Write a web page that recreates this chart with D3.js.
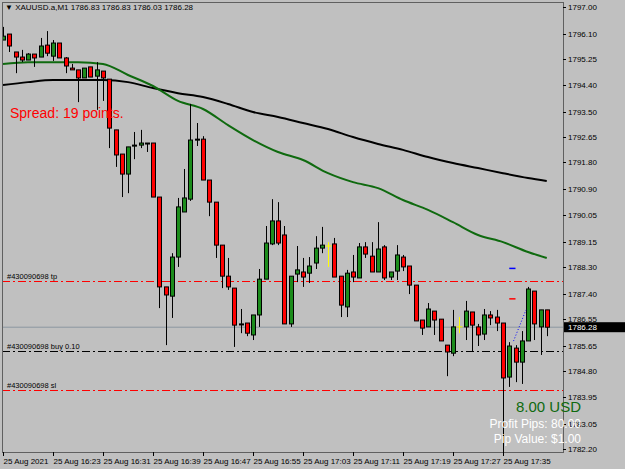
<!DOCTYPE html>
<html>
<head>
<meta charset="utf-8">
<script src="https://cdn.jsdelivr.net/npm/d3@7"></script>
<style>
  body { margin: 0; background: #c0c0c0; }
  svg { display: block; font-family: "Liberation Sans", Arial, sans-serif; }
</style>
</head>
<body>
<svg id="chart" width="625" height="469"></svg>
<script>
// OHLC of 1 minute bars, first bar 25 Aug 2021 16:15
const bars = [
  [1795.90,1796.34,1795.90,1796.03],[1796.10,1796.10,1795.50,1795.70],[1795.50,1795.50,1794.79,1795.33],[1795.33,1795.57,1795.16,1795.23],
  [1795.23,1795.46,1795.23,1795.43],[1795.43,1795.43,1795.00,1795.30],[1795.33,1795.97,1795.33,1795.70],[1795.73,1796.20,1795.36,1795.46],
  [1795.36,1795.90,1795.20,1795.80],[1795.80,1795.80,1795.30,1795.30],[1795.30,1795.33,1794.79,1795.03],[1794.96,1795.10,1794.90,1794.90],
  [1794.90,1794.90,1793.82,1794.63],[1794.63,1794.96,1794.63,1794.96],[1795.00,1795.00,1794.66,1794.66],[1794.69,1795.16,1793.56,1794.90],
  [1794.86,1794.86,1793.86,1794.63],[1794.59,1794.59,1792.28,1792.95],[1792.89,1792.89,1791.65,1792.05],[1792.08,1792.08,1790.64,1791.41],
  [1791.41,1792.32,1790.77,1792.32],[1792.38,1792.82,1791.91,1792.38],[1792.38,1792.89,1792.28,1792.45],[1792.45,1792.45,1792.15,1792.42],
  [1792.45,1792.45,1790.64,1790.64],[1790.64,1790.64,1786.92,1787.63],[1787.63,1787.63,1785.68,1787.36],[1787.32,1788.76,1786.59,1788.63],
  [1788.63,1790.61,1788.30,1790.31],[1790.14,1791.58,1790.14,1790.61],[1790.57,1793.76,1790.51,1792.55],[1792.58,1793.12,1792.35,1792.58],
  [1792.58,1792.68,1791.21,1791.21],[1791.21,1791.21,1790.00,1790.47],[1790.47,1790.47,1788.60,1789.03],[1789.03,1789.03,1787.59,1787.99],
  [1787.99,1788.60,1787.53,1787.63],[1787.59,1787.59,1785.62,1786.35],[1786.39,1786.89,1786.08,1786.39],[1786.42,1786.42,1785.98,1786.08],
  [1786.02,1786.69,1785.85,1786.69],[1786.69,1788.23,1786.29,1787.89],[1787.89,1789.67,1787.89,1789.10],[1789.07,1790.57,1789.03,1789.84],
  [1789.84,1790.47,1789.03,1789.10],[1789.37,1789.67,1786.39,1786.39],[1786.39,1787.99,1786.29,1787.99],[1788.06,1789.00,1787.79,1788.20],
  [1788.13,1788.60,1787.63,1787.96],[1788.09,1788.63,1787.76,1788.33],[1788.43,1789.33,1788.23,1788.93],[1788.93,1789.64,1788.76,1789.03],
  [1789.00,1789.13,1788.30,1789.00],[1789.07,1789.27,1787.96,1787.96],[1787.99,1787.99,1786.62,1787.02],[1786.96,1788.20,1786.62,1788.09],
  [1788.13,1788.70,1787.79,1787.96],[1787.93,1789.10,1787.93,1788.97],[1788.97,1789.13,1788.60,1788.73],[1788.66,1789.13,1788.13,1788.13],
  [1788.13,1789.80,1788.13,1788.90],[1788.97,1789.03,1787.86,1787.93],[1787.96,1788.13,1787.86,1788.13],[1788.16,1789.03,1787.86,1788.70],
  [1788.63,1788.70,1788.16,1788.30],[1788.33,1788.33,1787.39,1787.69],[1787.69,1787.69,1786.49,1786.49],[1786.52,1786.52,1786.02,1786.25],
  [1786.29,1787.09,1786.29,1786.89],[1786.82,1786.82,1786.02,1786.52],[1786.55,1786.55,1785.82,1785.82],[1785.68,1785.68,1784.64,1785.45],
  [1785.41,1786.86,1785.31,1786.29],[1786.29,1786.62,1786.08,1786.29],[1786.29,1787.16,1785.85,1786.82],[1786.79,1786.79,1785.45,1786.35],
  [1786.29,1786.39,1785.65,1786.02],[1786.05,1786.89,1785.85,1786.69],[1786.69,1786.82,1786.35,1786.59],[1786.62,1786.86,1786.15,1786.42],
  [1786.42,1786.42,1781.63,1784.58],[1784.61,1785.78,1784.28,1785.65],[1785.58,1785.68,1784.44,1785.11],[1785.11,1786.15,1784.38,1785.82],
  [1785.82,1787.63,1785.82,1787.56],[1787.49,1787.49,1785.85,1786.39],[1786.29,1786.86,1785.35,1786.86],[1786.86,1786.86,1785.98,1786.28]
];
const yellowBars = [52, 73];

// moving averages sampled at bar indices
const maIndex = [0,4,8,12,16,20,24,28,32,36,40,44,48,52,56,60,64,68,72,76,80,84,87];
const maGreen = [1795.10,1795.16,1795.16,1795.16,1795.10,1794.73,1794.36,1793.86,1793.59,1793.05,1792.55,1792.15,1791.88,1791.44,1791.14,1790.94,1790.54,1790.21,1789.80,1789.37,1789.13,1788.80,1788.60];
const maBlack = [1794.39,1794.49,1794.56,1794.56,1794.56,1794.49,1794.29,1794.12,1793.99,1793.76,1793.49,1793.32,1793.12,1792.92,1792.65,1792.42,1792.22,1791.98,1791.78,1791.61,1791.44,1791.28,1791.18];

const priceTicks = [1797.00,1796.10,1795.25,1794.40,1793.50,1792.65,1791.80,1790.90,1790.05,1789.15,1788.30,1787.40,1786.55,1785.65,1784.80,1783.95,1783.05,1782.20];
const timeLabels = ["25 Aug 2021","25 Aug 16:23","25 Aug 16:31","25 Aug 16:39","25 Aug 16:47","25 Aug 16:55","25 Aug 17:03","25 Aug 17:11","25 Aug 17:19","25 Aug 17:27","25 Aug 17:35"];

const tpPrice = 1787.83, buyPrice = 1785.48, slPrice = 1784.18, bidPrice = 1786.28;
const startTime = new Date(2021, 7, 25, 16, 15);

const svg = d3.select("#chart");
const plotL = 2, plotR = 563, plotT = 2, plotB = 452;

const x = d3.scaleTime()
  .domain([startTime, d3.timeMinute.offset(startTime, 88)])
  .range([3, 3 + 88 * 6.25]);
const xi = i => x(d3.timeMinute.offset(startTime, i));
const y = d3.scaleLinear().domain([1782.20, 1797.00]).range([449, 7.2]);

svg.append("clipPath").attr("id", "plot")
  .append("rect").attr("x", plotL).attr("y", plotT).attr("width", plotR - plotL).attr("height", plotB - plotT);
const plot = svg.append("g").attr("clip-path", "url(#plot)");

// bid line
plot.append("line").attr("x1", plotL).attr("x2", plotR)
  .attr("y1", y(bidPrice)).attr("y2", y(bidPrice)).attr("stroke", "#8c96a0").attr("stroke-width", 1);

// order lines
const orders = [
  { p: tpPrice, c: "#ff0000", label: "#430090698 tp" },
  { p: buyPrice, c: "#000000", label: "#430090698 buy 0.10" },
  { p: slPrice, c: "#ff0000", label: "#430090698 sl" }
];
orders.forEach(o => {
  const yy = Math.round(y(o.p)) + 0.5;
  plot.append("line").attr("x1", plotL).attr("x2", plotR).attr("y1", yy).attr("y2", yy)
    .attr("stroke", o.c).attr("stroke-dasharray", "8,3,2,3");
  plot.append("text").attr("x", 7).attr("y", yy - 3).attr("font-size", 7.5).attr("fill", "#000").text(o.label);
});

// moving averages
const line = d3.line().x((d, i) => xi(maIndex[i])).y(d => y(d)).curve(d3.curveMonotoneX);
plot.append("path").datum(maBlack).attr("d", line).attr("fill", "none").attr("stroke", "#000").attr("stroke-width", 2);
plot.append("path").datum(maGreen).attr("d", line).attr("fill", "none").attr("stroke", "#0f6a0f").attr("stroke-width", 2);

// candles
const cx = i => Math.round(xi(i)) + 0.5;
bars.forEach((d, i) => {
  const isYellow = yellowBars.includes(i);
  plot.append("line").attr("x1", cx(i)).attr("x2", cx(i))
    .attr("y1", y(d[1])).attr("y2", y(d[2]))
    .attr("stroke", isYellow ? "#ffff00" : "#000");
  if (isYellow) {
    plot.append("line").attr("x1", cx(i) - 3).attr("x2", cx(i) + 3)
      .attr("y1", y(d[0])).attr("y2", y(d[0])).attr("stroke", "#ffff00");
  } else {
    plot.append("rect")
      .attr("x", cx(i) - 2).attr("y", y(Math.max(d[0], d[3])))
      .attr("width", 4).attr("height", Math.max(1, Math.abs(y(d[0]) - y(d[3]))))
      .attr("fill", d[3] >= d[0] ? "#1c8c1c" : "#ff0000")
      .attr("stroke", "#000").attr("stroke-width", 1);
  }
});

// trade markers
plot.append("line").attr("x1", xi(82) - 2).attr("x2", xi(84) - 2)
  .attr("y1", y(buyPrice) - 10).attr("y2", y(1786.86))
  .attr("stroke", "#0000ff").attr("stroke-dasharray", "1,2");
plot.append("line").attr("x1", xi(81.5)).attr("x2", xi(82.5)).attr("y1", y(1788.25)).attr("y2", y(1788.25)).attr("stroke", "#0000ff").attr("stroke-width", 1.5);
plot.append("line").attr("x1", xi(81.5)).attr("x2", xi(82.5)).attr("y1", y(1787.23)).attr("y2", y(1787.23)).attr("stroke", "#ff0000").attr("stroke-width", 1.5);

// frame
svg.append("rect").attr("x", plotL + 0.5).attr("y", plotT + 0.5).attr("width", plotR - plotL).attr("height", plotB - plotT)
  .attr("fill", "none").attr("stroke", "#606060");

// price axis
priceTicks.forEach(p => {
  svg.append("line").attr("x1", plotR).attr("x2", plotR + 3).attr("y1", Math.round(y(p)) + 0.5).attr("y2", Math.round(y(p)) + 0.5).attr("stroke", "#000");
  svg.append("text").attr("x", 568).attr("y", y(p) + 3).attr("font-size", 8).attr("fill", "#000").text(p.toFixed(2));
});
svg.append("rect").attr("x", 564).attr("y", y(bidPrice) - 5).attr("width", 61).attr("height", 10).attr("fill", "#000");
svg.append("text").attr("x", 568).attr("y", y(bidPrice) + 3).attr("font-size", 8).attr("fill", "#fff").text(bidPrice.toFixed(2));

// time axis
timeLabels.forEach((t, k) => {
  const xx = Math.round(xi(k * 8)) + 0.5;
  svg.append("line").attr("x1", xx).attr("x2", xx).attr("y1", plotB).attr("y2", plotB + 4).attr("stroke", "#000");
  svg.append("text").attr("x", xx).attr("y", 464).attr("font-size", 8).attr("fill", "#000").text(t);
});

// header & texts
svg.append("text").attr("x", 5).attr("y", 10).attr("font-size", 8).attr("fill", "#000")
  .text("\u25BC XAUUSD.a,M1  1786.83 1786.83 1786.03 1786.28");
svg.append("text").attr("x", 10).attr("y", 118).attr("font-size", 14)
  .attr("fill", "#ff0000").text("Spread: 19 points.");
svg.append("text").attr("x", 581).attr("y", 412).attr("text-anchor", "end").attr("font-size", 15)
  .attr("fill", "#0f6a0f").text("8.00 USD");
svg.append("text").attr("x", 581).attr("y", 428).attr("text-anchor", "end").attr("font-size", 12)
  .attr("fill", "#fff").text("Profit Pips: 80.00");
svg.append("text").attr("x", 581).attr("y", 443).attr("text-anchor", "end").attr("font-size", 12)
  .attr("fill", "#fff").text("Pip Value: $1.00");
</script>
</body>
</html>
